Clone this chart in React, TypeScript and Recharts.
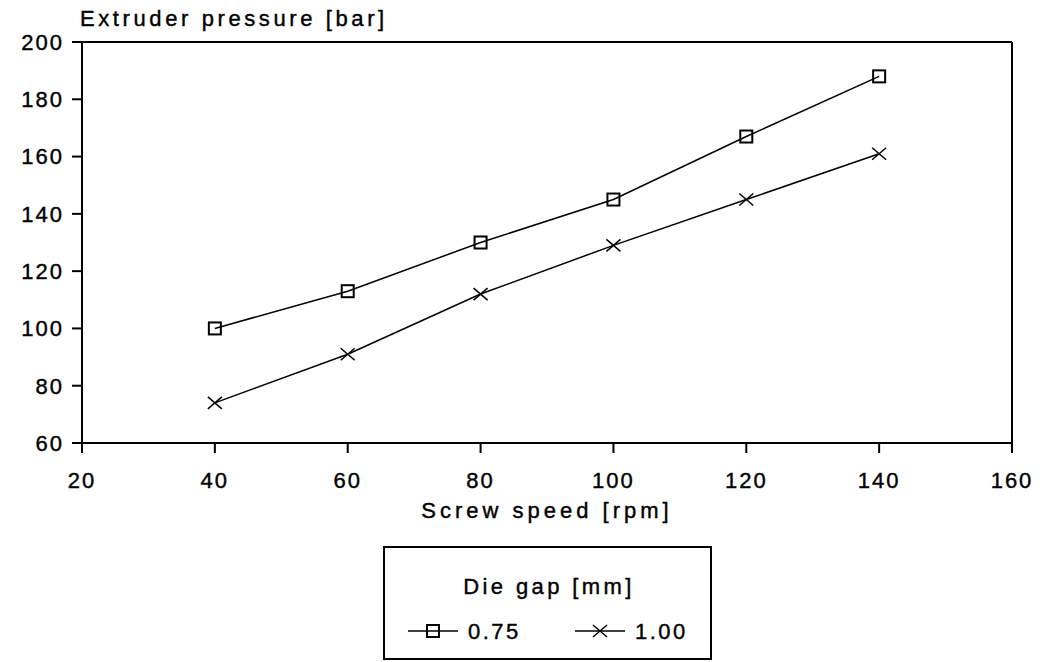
import React from 'react';
import { LineChart, Line, XAxis, YAxis, ReferenceLine } from 'recharts';

const speeds = [40, 60, 80, 100, 120, 140];
const pressure075 = [100, 113, 130, 145, 167, 188];
const pressure100 = [74, 91, 112, 129, 145, 161];
const xTicks = [20, 40, 60, 80, 100, 120, 140, 160];
const yTicks = [60, 80, 100, 120, 140, 160, 180, 200];
const seriesNames = ['0.75', '1.00'];

const data = speeds.map((s, i) => ({ speed: s, g075: pressure075[i], g100: pressure100[i] }));

const FONT = '"Liberation Sans", Arial, sans-serif';
// thin stroke on the glyphs to mimic the plotter pen weight
const tickStyle = { fontFamily: FONT, fontSize: 22, fill: '#000', stroke: '#000', strokeWidth: 0.4, letterSpacing: 2 };

const SquareDot = (props: any) => {
  const { cx, cy } = props;
  return <rect x={cx - 6} y={cy - 6} width={12} height={12} fill="none" stroke="#000" strokeWidth={2} />;
};

const CrossDot = (props: any) => {
  const { cx, cy } = props;
  return (
    <g>
      <line x1={cx - 7} y1={cy - 6} x2={cx + 7} y2={cy + 6} stroke="#000" strokeWidth={1.5} />
      <line x1={cx - 7} y1={cy + 6} x2={cx + 7} y2={cy - 6} stroke="#000" strokeWidth={1.5} />
    </g>
  );
};

// legend drawn by hand, items come from seriesNames
function DieGapLegend() {
  const markers = [
    (x: number, y: number) => <rect x={x - 6} y={y - 6} width={12} height={12} fill="none" stroke="#000" strokeWidth={2} />,
    (x: number, y: number) => (
      <g>
        <line x1={x - 7} y1={y - 6} x2={x + 7} y2={y + 6} stroke="#000" strokeWidth={1.5} />
        <line x1={x - 7} y1={y + 6} x2={x + 7} y2={y - 6} stroke="#000" strokeWidth={1.5} />
      </g>
    ),
  ];
  return (
    <svg width={329} height={114} style={{ position: 'absolute', left: 383, top: 546 }}>
      <rect x={1} y={1} width={327} height={112} fill="#fff" stroke="#000" strokeWidth={2} />
      <text x={166} y={48} textAnchor="middle" fontFamily={FONT} fontSize={22} letterSpacing={3.4} stroke="#000" strokeWidth={0.4}>
        Die gap [mm]
      </text>
      {seriesNames.map((name, i) => {
        const x0 = 25 + i * 167;
        return (
          <g key={name}>
            <line x1={x0} y1={85} x2={x0 + 50} y2={85} stroke="#000" strokeWidth={1.5} />
            {markers[i](x0 + 25, 85)}
            <text x={x0 + 60} y={93} fontFamily={FONT} fontSize={22} letterSpacing={2.5} stroke="#000" strokeWidth={0.4}>
              {name}
            </text>
          </g>
        );
      })}
    </svg>
  );
}

export default function App() {
  return (
    <div style={{ position: 'fixed', left: 0, top: 0, width: 1043, height: 662, background: '#fff' }}>
      <div
        style={{
          position: 'absolute',
          left: 80,
          top: 6,
          fontFamily: FONT,
          fontSize: 22,
          letterSpacing: 3.6,
          whiteSpace: 'nowrap',
          WebkitTextStroke: '0.4px #000',
        }}
      >
        Extruder pressure [bar]
      </div>
      <LineChart width={1043} height={662} data={data} margin={{ top: 42, right: 31, left: 0, bottom: 144 }}>
        <XAxis
          dataKey="speed"
          type="number"
          domain={[20, 160]}
          ticks={xTicks}
          height={75}
          tickSize={10}
          tickMargin={19}
          tick={tickStyle}
          stroke="#000"
          strokeWidth={2}
          label={{
            value: 'Screw speed [rpm]',
            position: 'insideBottom',
            offset: 0,
            style: { fontFamily: FONT, fontSize: 22, fill: '#000', stroke: '#000', strokeWidth: 0.4, letterSpacing: 4 },
          }}
        />
        <YAxis
          type="number"
          domain={[60, 200]}
          ticks={yTicks}
          width={82}
          tickSize={10}
          tickMargin={8}
          tick={tickStyle}
          stroke="#000"
          strokeWidth={2}
        />
        <ReferenceLine y={200} stroke="#000" strokeWidth={2} />
        <ReferenceLine x={160} stroke="#000" strokeWidth={2} />
        <Line
          dataKey="g075"
          name={seriesNames[0]}
          stroke="#000"
          strokeWidth={1.5}
          dot={<SquareDot />}
          isAnimationActive={false}
        />
        <Line
          dataKey="g100"
          name={seriesNames[1]}
          stroke="#000"
          strokeWidth={1.5}
          dot={<CrossDot />}
          isAnimationActive={false}
        />
      </LineChart>
      <DieGapLegend />
    </div>
  );
}
